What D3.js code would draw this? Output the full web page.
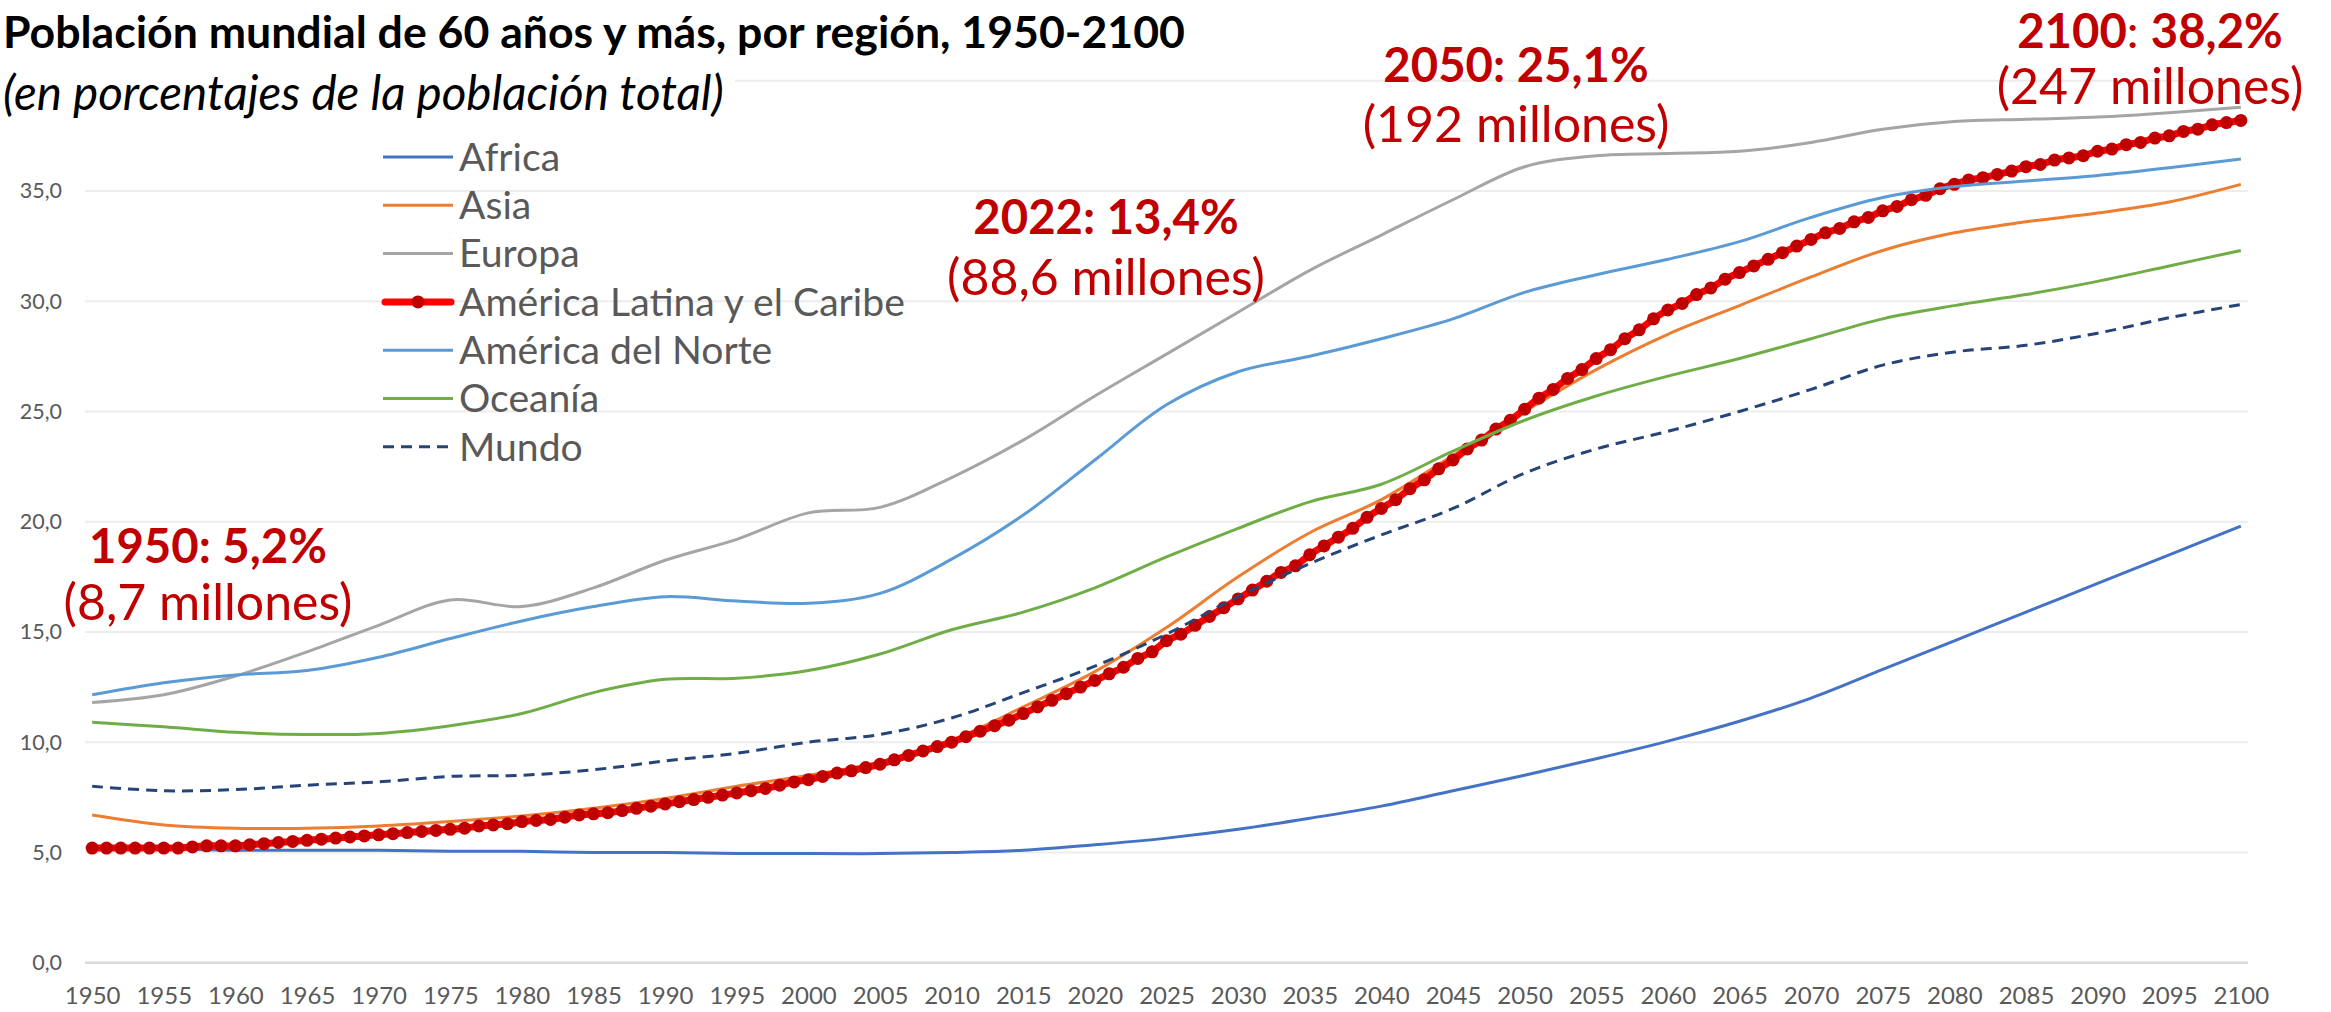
<!DOCTYPE html>
<html>
<head>
<meta charset="utf-8">
<script src="https://cdn.jsdelivr.net/npm/d3@7"></script>
<style>
body{margin:0;background:#fff;}
svg{display:block;font-family:Lato,"Open Sans",sans-serif;}
</style>
</head>
<body>
<div class="chart"></div>
<script>
//categorias
var years=d3.range(1950,2101);
var years5=d3.range(1950,2101,5);
var yTicks=[0,5,10,15,20,25,30,35,40];

//series cada 5 años
var africa=[5.2,5.15,5.1,5.1,5.1,5.05,5.05,5.0,5.0,4.95,4.95,4.95,5.0,5.1,5.35,5.65,6.05,6.55,7.1,7.8,8.5,9.25,10.05,10.95,12.0,13.3,14.6,15.9,17.2,18.5,19.8];
var asia=[6.7,6.25,6.1,6.1,6.2,6.4,6.65,7.0,7.45,8.0,8.5,9.1,10.1,11.6,13.2,15.2,17.5,19.5,21.0,23.0,25.0,26.9,28.5,29.8,31.1,32.3,33.1,33.6,34.0,34.5,35.3];
var europa=[11.8,12.15,13.0,14.1,15.3,16.45,16.15,17.0,18.25,19.2,20.4,20.65,22.0,23.7,25.7,27.6,29.5,31.4,33.0,34.6,36.1,36.6,36.7,36.8,37.2,37.8,38.15,38.25,38.35,38.55,38.8];
var norte=[12.15,12.7,13.05,13.25,13.85,14.7,15.5,16.15,16.6,16.4,16.3,16.75,18.3,20.3,22.8,25.3,26.8,27.5,28.3,29.2,30.4,31.2,31.9,32.7,33.8,34.7,35.2,35.45,35.7,36.05,36.45];
var oceania=[10.9,10.7,10.45,10.35,10.4,10.75,11.3,12.25,12.85,12.9,13.25,14.0,15.1,15.9,17.0,18.4,19.7,20.9,21.7,23.2,24.6,25.7,26.6,27.4,28.3,29.2,29.8,30.3,30.9,31.6,32.3];
var mundo=[8.0,7.8,7.85,8.05,8.2,8.45,8.5,8.75,9.15,9.5,10.0,10.35,11.1,12.25,13.45,14.9,16.6,18.1,19.4,20.6,22.2,23.3,24.1,25.0,26.0,27.1,27.7,28.0,28.55,29.25,29.85];
//America Latina y el Caribe, anual (tiene marcador cada año)
var alc=[5.2,5.2,5.2,5.2,5.2,5.2,5.2,5.25,5.3,5.3,
	5.3,5.35,5.4,5.45,5.5,5.55,5.6,5.65,5.7,5.75,
	5.8,5.85,5.9,5.95,6.0,6.05,6.1,6.2,6.25,6.3,
	6.4,6.45,6.5,6.6,6.7,6.75,6.8,6.9,7.0,7.1,
	7.2,7.3,7.4,7.5,7.6,7.7,7.8,7.9,8.05,8.2,
	8.3,8.45,8.6,8.7,8.85,9.0,9.2,9.4,9.6,9.8,
	10.0,10.25,10.5,10.75,11.0,11.3,11.6,11.9,12.2,12.5,
	12.8,13.1,13.4,13.8,14.1,14.6,14.9,15.3,15.7,16.1,
	16.5,16.9,17.3,17.7,18.0,18.5,18.9,19.3,19.7,20.2,
	20.6,21.0,21.5,21.9,22.4,22.8,23.3,23.7,24.2,24.6,
	25.1,25.6,26.0,26.5,26.9,27.4,27.8,28.3,28.7,29.2,
	29.6,29.9,30.3,30.6,31.0,31.3,31.6,31.9,32.2,32.5,
	32.8,33.1,33.3,33.6,33.8,34.1,34.3,34.6,34.8,35.1,
	35.3,35.5,35.6,35.75,35.9,36.1,36.2,36.4,36.5,36.6,
	36.8,36.9,37.1,37.2,37.4,37.5,37.7,37.8,38.0,38.1,
	38.2];

var seriesNames=['Africa','Asia','Europa','América Latina y el Caribe','América del Norte','Oceanía','Mundo'];
var seriesColors=['#4472C4','#ED7D31','#A5A5A5','#FF0000','#5B9BD5','#70AD47','#264478'];

//anotaciones
var notesYear=['1950','2022','2050','2100'];
var notesPct=['5,2%','13,4%','25,1%','38,2%'];
var notesMill=['(8,7 millones)','(88,6 millones)','(192 millones)','(247 millones)'];

var width=2331,height=1012;
var svg=d3.select('div.chart')
		.append('svg')
		.attr('width',width)
		.attr('height',height);

var x=d3.scalePoint()
		.domain(years)
		.range([85,2248])
		.padding(0.5);
var y=d3.scaleLinear()
		.domain([0,40])
		.range([962.7,80.7]);

//lineas de cuadricula
svg.append('g')
	.selectAll('line')
	.data(yTicks)
	.enter()
	.append('line')
	.attr('x1',85)
	.attr('x2',2248)
	.attr('y1',function(d){return y(d);})
	.attr('y2',function(d){return y(d);})
	.attr('stroke',function(d){return d==0?'#D9D9D9':'#EDEDED';})
	.attr('stroke-width',function(d){return d==0?2.5:2;});

//eje y
var yAxis=svg.append('g')
		.attr('transform','translate(62,0)')
		.call(d3.axisLeft(y).tickValues(yTicks.slice(0,-1)).tickSize(0).tickPadding(0)
			.tickFormat(function(d){return d3.format('.1f')(d).replace('.',',');}));
yAxis.select('.domain').remove();
yAxis.selectAll('text')
	.attr('font-family','Lato')
	.attr('font-size',21.5)
	.attr('fill','#595959');

//eje x
var xAxis=svg.append('g')
		.attr('transform','translate(0,978)')
		.call(d3.axisBottom(x).tickValues(years5).tickSize(0).tickPadding(0));
xAxis.select('.domain').remove();
xAxis.selectAll('text')
	.attr('font-family','Lato')
	.attr('font-size',24)
	.attr('fill','#595959')
	.attr('dy','1.1em');

//lineas
var line5=d3.line()
		.x(function(d){return x(d[0]);})
		.y(function(d){return y(d[1]);})
		.curve(d3.curveCatmullRom.alpha(0.5));
var plot=svg.append('g');
function drawSeries(vals,i){
	plot.append('path')
		.datum(years5.map(function(yr,k){return [yr,vals[k]];}))
		.attr('fill','none')
		.attr('stroke',seriesColors[i])
		.attr('stroke-width',3)
		.attr('stroke-dasharray',i==6?'11,7':null)
		.attr('d',line5);
}
drawSeries(africa,0);
drawSeries(asia,1);
drawSeries(europa,2);

//america latina
var alcData=years.map(function(yr,k){return [yr,alc[k]];});
plot.append('path')
	.datum(alcData)
	.attr('fill','none')
	.attr('stroke','#FF0000')
	.attr('stroke-width',7)
	.attr('d',line5);
plot.selectAll('circle.alc')
	.data(alcData)
	.enter()
	.append('circle')
	.attr('class','alc')
	.attr('cx',function(d){return x(d[0]);})
	.attr('cy',function(d){return y(d[1]);})
	.attr('r',6.5)
	.attr('fill','#C00000');

drawSeries(norte,4);
drawSeries(oceania,5);
drawSeries(mundo,6);

//ajusta el tamaño de letra a un ancho
function fit(t,w){
	var cur=t.node().getComputedTextLength();
	var fs=parseFloat(t.attr('font-size'));
	return fs*w/cur;
}

//titulo
var title=svg.append('text')
		.attr('x',3)
		.attr('y',48)
		.attr('font-size',40)
		.attr('font-weight',700)
		.attr('fill','#000')
		.text('Población mundial de 60 años y más, por región, 1950-2100');
title.attr('font-size',fit(title,1182));
svg.append('rect')
	.attr('x',0).attr('y',70)
	.attr('width',735).attr('height',52)
	.attr('fill','#fff');
var sub=svg.append('text')
		.attr('x',3)
		.attr('y',110)
		.attr('font-size',40)
		.attr('font-style','italic')
		.attr('fill','#000')
		.text('(en porcentajes de la población total)');
sub.attr('font-size',fit(sub,721));

//leyenda
var legend=svg.append('g').attr('transform','translate(383,157)');
var items=legend.selectAll('g')
		.data(seriesNames)
		.enter()
		.append('g')
		.attr('transform',function(d,i){return 'translate(0,'+(i*48.3)+')';});
items.append('line')
	.attr('x1',function(d,i){return i==3?2:0;})
	.attr('x2',function(d,i){return i==3?68:70;})
	.attr('stroke',function(d,i){return seriesColors[i];})
	.attr('stroke-width',function(d,i){return i==3?7:3;})
	.attr('stroke-linecap',function(d,i){return i==3?'round':'butt';})
	.attr('stroke-dasharray',function(d,i){return i==6?'11,7':null;});
legend.append('circle')
	.attr('cx',35)
	.attr('cy',3*48.3)
	.attr('r',6.5)
	.attr('fill','#C00000');
var ltext=items.append('text')
		.attr('x',76)
		.attr('dy','0.35em')
		.attr('font-size',36)
		.attr('fill','#595959')
		.text(function(d){return d;});
var lfs=fit(d3.select(ltext.nodes()[3]),446);
ltext.attr('font-size',lfs);

//anotaciones
var noteX=[208,1106,1516,2150];
var noteY1=[563,234,82,48];
var noteY2=[620,295,142,104];
var probe=svg.append('text').attr('font-size',40).attr('font-weight',700).text('1950: 5,2%');
var bfs=fit(probe,238);
probe.remove();
probe=svg.append('text').attr('font-size',40).text('(8,7 millones)');
var rfs=fit(probe,289);
probe.remove();
var notes=svg.append('g').attr('fill','#C00000');
notesYear.forEach(function(yr,i){
	var t=notes.append('text')
		.attr('x',noteX[i])
		.attr('y',noteY1[i])
		.attr('text-anchor','middle')
		.attr('font-size',bfs)
		.attr('font-weight',700);
	t.append('tspan').text(yr);
	t.append('tspan').attr('font-weight',i==3?400:700).text(': ');
	t.append('tspan').text(notesPct[i]);
	notes.append('text')
		.attr('x',noteX[i])
		.attr('y',noteY2[i])
		.attr('text-anchor','middle')
		.attr('font-size',rfs)
		.text(notesMill[i]);
});
</script>
</body>
</html>
